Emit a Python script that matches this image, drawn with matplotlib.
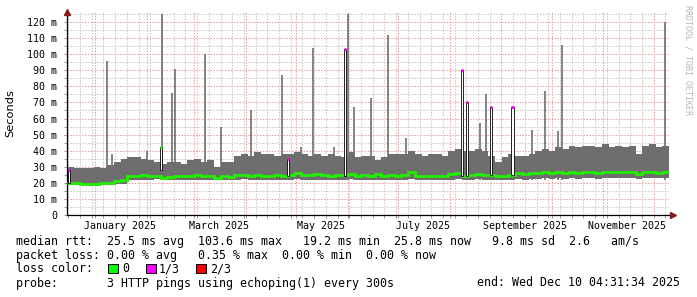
import matplotlib
matplotlib.use("Agg")
import matplotlib.pyplot as plt
import matplotlib.dates as mdates
from matplotlib.patches import Rectangle
from matplotlib.ticker import MultipleLocator, FuncFormatter
import numpy as np
import pandas as pd

# smoke / median data, one value every 4 days (ms)
smoke_start = "2024-12-15 04:31"
smoke_top = [30, 29, 29, 29, 30, 29, 31, 33, 35, 36,
             36, 35, 34, 33, 32, 33, 33, 32, 34, 35,
             33, 34, 30, 33, 33, 37, 38, 37, 39, 38,
             38, 37, 38, 38, 39, 38, 37, 38, 37, 38,
             37, 36, 39, 36, 37, 37, 34, 36, 38, 38,
             38, 40, 38, 37, 38, 38, 37, 40, 41, 40,
             40, 41, 40, 37, 33, 36, 38, 37, 37, 38,
             40, 41, 40, 42, 41, 43, 42, 43, 43, 42,
             44, 42, 43, 42, 43, 38, 43, 44, 42, 43]
smoke_median = [20, 20, 19.5, 19, 19.5, 20, 20, 21, 22, 24,
                24.5, 25, 24.5, 24, 23, 23.5, 24, 24, 24, 25,
                24, 24, 23, 24, 23.5, 25, 25, 24.5, 25, 24.5,
                24.5, 25, 24.5, 25, 26, 25, 25, 25.5, 25, 24.5,
                25, 25, 25.5, 24.5, 25, 24.5, 25.5, 24.5, 25, 24.5,
                25, 26.5, 24.5, 24.5, 24.5, 24.5, 24.5, 25.5, 26, 24.5,
                25, 25.5, 25, 25, 24.5, 24.5, 25, 26, 25.5, 26,
                26, 27, 26, 27, 26, 26.5, 26, 26.5, 26.5, 26,
                26.5, 26.5, 27, 26.5, 26.5, 25.5, 26.5, 26.5, 26, 26.5]
smoke_bottom = [18.5, 18.5, 18.5, 18, 18, 18.5, 18.5, 19, 19, 22,
                22, 22, 22, 22.5, 22, 22, 22, 22, 22, 22,
                22, 22, 21.5, 22, 22, 22, 22.5, 22, 22, 22,
                22, 22, 22, 22, 22.5, 22, 22, 22, 22, 22,
                22, 22, 22.5, 22, 22, 22, 22, 22, 22, 22,
                22, 22.5, 22, 22, 22, 22, 22, 22, 22.5, 22,
                22, 22.5, 22, 22, 22, 22, 22, 22.5, 22, 22.5,
                22.5, 23, 22.5, 23, 22.5, 23, 22.5, 23, 23, 22.5,
                23, 23, 23, 23, 23, 22.5, 23, 23, 23, 23]

# single high max values (ms)
spike_dates = ["2025-01-08", "2025-01-11", "2025-02-01", "2025-02-10", "2025-02-16",
               "2025-02-18", "2025-03-08", "2025-03-17", "2025-04-04", "2025-04-23",
               "2025-05-04", "2025-05-11", "2025-05-24", "2025-06-01", "2025-06-05",
               "2025-06-15", "2025-06-25", "2025-07-06", "2025-08-19", "2025-08-23",
               "2025-09-19", "2025-09-27", "2025-10-05", "2025-10-07", "2025-12-08"]
spike_values = [96, 38, 40, 125, 76, 91, 100, 55, 65, 87,
                42, 104, 42, 125, 67, 73, 112, 48, 57, 75,
                53, 77, 52, 106, 120]

# median jumps with packet loss
loss_dates = ["2024-12-16", "2025-02-09", "2025-04-26", "2025-05-30",
              "2025-08-08", "2025-08-11", "2025-08-25", "2025-09-07"]
loss_values = [28, 42, 35, 103, 90, 70, 67, 67]
loss_base = [20, 28, 24, 24, 24, 24, 25, 25]
loss_level = ["1/3", "0", "1/3", "1/3", "1/3", "1/3", "1/3", "1/3"]

loss_colors = {"0": "#00ff00", "1/3": "#ff00ff", "2/3": "#ff0000"}
month_labels = ["January 2025", "March 2025", "May 2025",
                "July 2025", "September 2025", "November 2025"]
month_label_dates = ["2025-01-16", "2025-03-16", "2025-05-16",
                     "2025-07-16", "2025-09-15", "2025-11-15"]

x_start = pd.Timestamp("2024-12-15 04:31:34")
x_end = pd.Timestamp("2025-12-10 04:31:34")

mono = "DejaVu Sans Mono"
W, H = 697, 297

fig = plt.figure(figsize=(W / 100, H / 100), dpi=100)
fig.patch.set_facecolor("white")
ax = fig.add_axes([67 / W, 82 / H, 602 / W, (215 - 12.4) / H])

edges = mdates.date2num(pd.date_range(smoke_start, periods=len(smoke_top) + 1, freq="4D"))
edges[-1] = min(edges[-1], mdates.date2num(x_end))
ax.stairs(smoke_top, edges, baseline=smoke_bottom, fill=True,
          color="#6e6e6e", lw=0, zorder=2)

sd = mdates.date2num(pd.to_datetime(spike_dates))
ax.vlines(sd, np.array(smoke_bottom).mean(), spike_values, color="#6e6e6e",
          lw=1.2, zorder=2)

ax.stairs(smoke_median, edges, baseline=None, color="#22ee00", lw=2.0, zorder=4)

ld = mdates.date2num(pd.to_datetime(loss_dates))
heights = np.array(loss_values) - np.array(loss_base)
ax.bar(ld, heights, bottom=loss_base, width=1.2, align="edge",
       color="white", edgecolor="black", lw=0.6, zorder=5)
for d, v, lv in zip(ld, loss_values, loss_level):
    ax.plot([d, d + 1.2], [v, v], color=loss_colors[lv], lw=2.0,
            solid_capstyle="butt", zorder=6)

ax.set_xlim(mdates.date2num(x_start), mdates.date2num(x_end))
ax.set_ylim(0, 126)

ax.yaxis.set_major_locator(MultipleLocator(10))
ax.yaxis.set_minor_locator(MultipleLocator(5))
ax.yaxis.set_major_formatter(FuncFormatter(lambda v, p: "0" if v == 0 else f"{v:.0f} m"))
ax.xaxis.set_major_locator(mdates.MonthLocator())
ax.xaxis.set_minor_locator(mdates.WeekdayLocator(byweekday=mdates.MO))
ax.xaxis.set_major_formatter(FuncFormatter(lambda v, p: ""))

ax.grid(True, which="major", color="#e8a0a0", lw=0.75, ls=(0, (1.4, 1.4)), zorder=1)
ax.grid(True, which="minor", color="#c8c8c8", lw=0.75, ls=(0, (1.4, 1.4)), zorder=1)
ax.tick_params(which="both", length=2, width=0.7, color="#999999")
ax.tick_params(axis="y", which="major", pad=5, labelsize=7.2)
for lab in ax.get_yticklabels():
    lab.set_family(mono)

trans = ax.get_xaxis_transform()
for lab, d in zip(month_labels, month_label_dates):
    ax.text(mdates.date2num(pd.Timestamp(d)), -0.032, lab, transform=trans,
            ha="center", va="top", fontsize=7.2, family=mono)

for s in ["top", "right"]:
    ax.spines[s].set_visible(False)
for s in ["left", "bottom"]:
    ax.spines[s].set_color("black")
    ax.spines[s].set_linewidth(0.9)
ax.plot([0], [1.0], marker="^", color="#8b1a1a", ms=4.5, transform=ax.transAxes,
        clip_on=False, zorder=10)
ax.plot([1.006], [0], marker=">", color="#8b1a1a", ms=4.5, transform=ax.transAxes,
        clip_on=False, zorder=10)

fig.text(10 / W, 1 - 113 / H, "Seconds", rotation=90, ha="center", va="center",
         fontsize=8.2, family="DejaVu Sans")
fig.text(688 / W, 1 - 5 / H, "RRDTOOL / TOBI OETIKER", rotation=-90, ha="center",
         va="top", fontsize=6, family=mono, color="#b8b8b8")

legend_rows = [
    "median rtt:  25.5 ms avg  103.6 ms max   19.2 ms min  25.8 ms now   9.8 ms sd  2.6   am/s",
    "packet loss: 0.00 % avg   0.35 % max  0.00 % min  0.00 % now",
    "loss color:",
    "probe:       3 HTTP pings using echoping(1) every 300s",
]
row_y = [241, 255, 269, 283]
for txt, y in zip(legend_rows, row_y):
    fig.text(16 / W, 1 - y / H, txt, ha="left", va="center", fontsize=8.4, family=mono)
fig.text(680 / W, 1 - 283 / H, "end: Wed Dec 10 04:31:34 2025", ha="right",
         va="center", fontsize=8.4, family=mono)

sq_x = [108, 146, 196]
lab_x = [122, 159, 210]
for (name, col), sx, lx in zip(loss_colors.items(), sq_x, lab_x):
    fig.add_artist(Rectangle((sx / W, 1 - 273 / H), 10 / W, 9 / H,
                             transform=fig.transFigure, facecolor=col,
                             edgecolor="black", lw=0.7))
    fig.text(lx / W, 1 - 269 / H, name, ha="left", va="center", fontsize=8.4, family=mono)

fig.savefig("out.png", dpi=100)
